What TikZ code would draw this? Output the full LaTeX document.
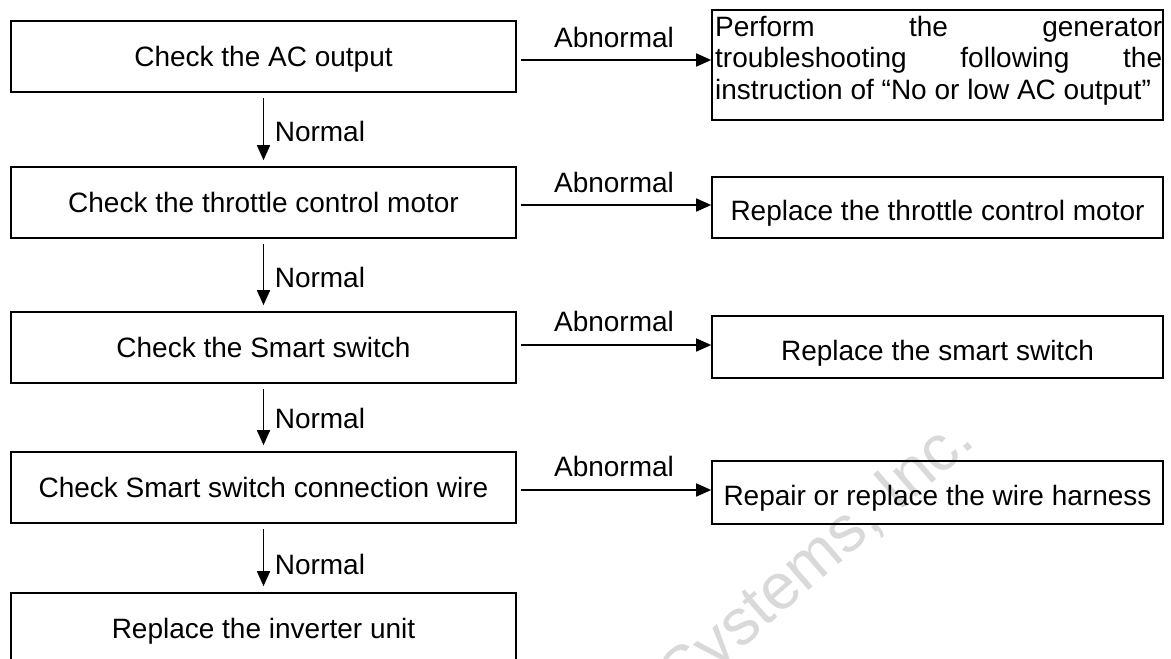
\documentclass[tikz,border=0pt]{standalone}
\usepackage{fontspec}
\setmainfont{Liberation Sans}
\usetikzlibrary{arrows.meta}
\begin{document}
\begin{tikzpicture}[x=1pt,y=-1pt,
  every node/.style={font=\fontsize{28}{31.5}\selectfont},
  lbox/.style={draw, line width=1.6pt, minimum width=505pt, minimum height=71pt,
    text height=19pt, text depth=0pt, inner sep=0pt},
  rbox/.style={draw, line width=1.6pt, minimum width=451pt,
    text height=26pt, text depth=0pt, inner sep=0pt},
  arr/.style={line width=1.6pt, -{Triangle[length=15pt,width=13pt]}},
  lbl/.style={text height=20pt, text depth=0pt, inner sep=0pt},
  wmark/.style={text=black!15, font=\fontsize{65}{70}\selectfont, inner sep=0pt}
]
\useasboundingbox (0,0) rectangle (1171,659);
\clip (0,0) rectangle (1171,659);

% watermark
\node[wmark, rotate=41, anchor=base west] (wm) at (683,700) {Systems, Inc.};

% left column
\node[lbox] (b1) at (263.5,56.5) {Check the AC output};
\node[lbox] (b2) at (263.5,202.5) {Check the throttle control motor};
\node[lbox] (b3) at (263.5,347.5) {Check the Smart switch};
\node[lbox] (b4) at (263.5,487.5) {Check Smart switch connection wire};
\node[lbox] (b5) at (263.5,628.5) {Replace the inverter unit};

% right column
\node[draw, line width=1.6pt, minimum width=451pt, minimum height=110pt, inner sep=0pt] (r1) at (937.5,65) {};
\node[anchor=base west, inner sep=0pt] (r1a) at (715,36) {\makebox[447pt][s]{Perform the generator}};
\node[anchor=base west, inner sep=0pt] (r1b) at (715,67) {\makebox[447pt][s]{troubleshooting following the}};
\node[anchor=base west, inner sep=0pt] (r1c) at (715,99) {instruction of “No or low AC output”};
\node[rbox, minimum height=61pt] (r2) at (937.5,207.5) {Replace the throttle control motor};
\node[rbox, minimum height=62pt] (r3) at (937.5,347) {Replace the smart switch};
\node[rbox, minimum height=63pt] (r4) at (937.5,492.5) {Repair or replace the wire harness};

% vertical connectors
\draw[arr, shorten <=5pt, shorten >=6pt] (b1) -- node[lbl, anchor=west, pos=0.53, xshift=10.5pt] (n1) {Normal} (b2);
\draw[arr, shorten <=5pt, shorten >=6pt] (b2) -- node[lbl, anchor=west, pos=0.53, xshift=10.5pt] (n2) {Normal} (b3);
\draw[arr, shorten <=5pt, shorten >=6pt] (b3) -- node[lbl, anchor=west, pos=0.52, xshift=10.5pt] (n3) {Normal} (b4);
\draw[arr, shorten <=5pt, shorten >=6pt] (b4) -- node[lbl, anchor=west, pos=0.6, xshift=10.5pt] (n4) {Normal} (b5);

% horizontal connectors
\coordinate (y1) at (0,60);
\coordinate (y2) at (0,205);
\coordinate (y3) at (0,345);
\coordinate (y4) at (0,490);
\draw[arr, shorten <=4pt] (b1.east |- y1) -- node[lbl, above=12pt] (a1) {Abnormal} (r1.west |- y1);
\draw[arr, shorten <=4pt] (b2.east |- y2) -- node[lbl, above=12pt] (a2) {Abnormal} (r2.west |- y2);
\draw[arr, shorten <=4pt] (b3.east |- y3) -- node[lbl, above=13pt] (a3) {Abnormal} (r3.west |- y3);
\draw[arr, shorten <=4pt] (b4.east |- y4) -- node[lbl, above=13pt] (a4) {Abnormal} (r4.west |- y4);
\end{tikzpicture}
\end{document}
